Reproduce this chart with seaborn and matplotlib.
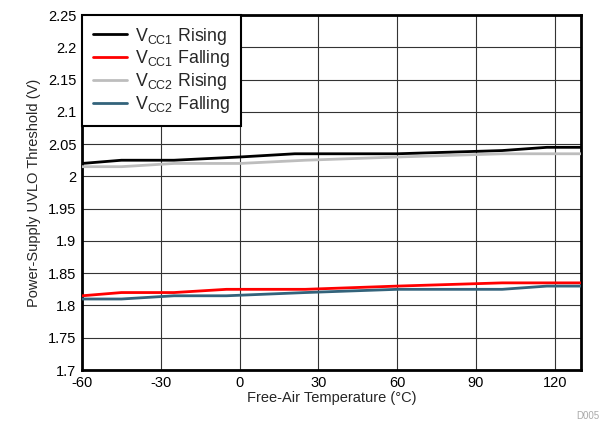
import matplotlib
matplotlib.use("Agg")
import matplotlib.pyplot as plt
import seaborn as sns
import pandas as pd

temp_vcc1_rise = [-60, -45, -25, 0, 21, 60, 100, 117, 130]
vcc1_rise = [2.020, 2.025, 2.025, 2.030, 2.035, 2.035, 2.040, 2.045, 2.045]
temp_vcc1_fall = [-60, -45, -25, -5, 25, 60, 100, 130]
vcc1_fall = [1.815, 1.820, 1.820, 1.825, 1.825, 1.830, 1.835, 1.835]
temp_vcc2_rise = [-60, -45, -25, 0, 25, 60, 100, 130]
vcc2_rise = [2.015, 2.015, 2.020, 2.020, 2.025, 2.030, 2.035, 2.035]
temp_vcc2_fall = [-60, -45, -25, -5, 25, 60, 100, 117, 130]
vcc2_fall = [1.810, 1.810, 1.815, 1.815, 1.820, 1.825, 1.825, 1.830, 1.830]

labels = ['V$_{\\mathregular{CC1}}$ Rising', 'V$_{\\mathregular{CC1}}$ Falling',
          'V$_{\\mathregular{CC2}}$ Rising', 'V$_{\\mathregular{CC2}}$ Falling']
colors = ['#000000', '#ff0000', '#bdbdbd', '#33637b']

xticks = [-60, -30, 0, 30, 60, 90, 120]
yticks = [1.7, 1.75, 1.8, 1.85, 1.9, 1.95, 2.0, 2.05, 2.1, 2.15, 2.2, 2.25]
ytick_labels = ['1.7', '1.75', '1.8', '1.85', '1.9', '1.95', '2', '2.05', '2.1', '2.15', '2.2', '2.25']

sns.set_style("white")
plt.rcParams['font.family'] = ['Liberation Sans', 'DejaVu Sans']
plt.rcParams['mathtext.fontset'] = 'custom'
plt.rcParams['mathtext.rm'] = 'Liberation Sans'

frames = []
for t, v, lab in zip([temp_vcc1_rise, temp_vcc1_fall, temp_vcc2_rise, temp_vcc2_fall],
                     [vcc1_rise, vcc1_fall, vcc2_rise, vcc2_fall], labels):
    frames.append(pd.DataFrame({'T': t, 'V': v, 'series': lab}))
df = pd.concat(frames, ignore_index=True)

fig = plt.figure(figsize=(6.08, 4.25), dpi=100)
ax = fig.add_axes([0.135, 0.1294, 0.8206, 0.8353])
sns.lineplot(data=df, x='T', y='V', hue='series', hue_order=labels,
             palette=colors, linewidth=2, ax=ax, estimator=None, sort=False, zorder=3)

ax.set_xlim(-60, 130)
ax.set_ylim(1.7, 2.25)
ax.set_xticks(xticks)
ax.set_xticklabels([str(x) for x in xticks])
ax.set_yticks(yticks)
ax.set_yticklabels(ytick_labels)
ax.tick_params(axis='both', labelsize=10.5, length=0, pad=4, colors='black')
ax.grid(True, color='#333333', linewidth=0.8)
for s in ax.spines.values():
    s.set_visible(True)
    s.set_color('black')
    s.set_linewidth(2)
ax.set_xlabel('Free-Air Temperature (°C)', fontsize=10.5, labelpad=1)
ax.set_ylabel('Power-Supply UVLO Threshold (V)', fontsize=10.5, labelpad=5)

leg = ax.legend(loc='upper left', fontsize=12.8, frameon=True, fancybox=False,
                borderaxespad=0, handlelength=1.9, labelspacing=0.1,
                borderpad=0.6, handletextpad=0.5)
leg.get_frame().set_edgecolor('black')
leg.get_frame().set_linewidth(1.5)
leg.get_frame().set_alpha(1)

fig.text(0.985, 0.01, 'D005', fontsize=7, color='#aaaaaa', ha='right', va='bottom')

fig.savefig('out.png', dpi=100)
